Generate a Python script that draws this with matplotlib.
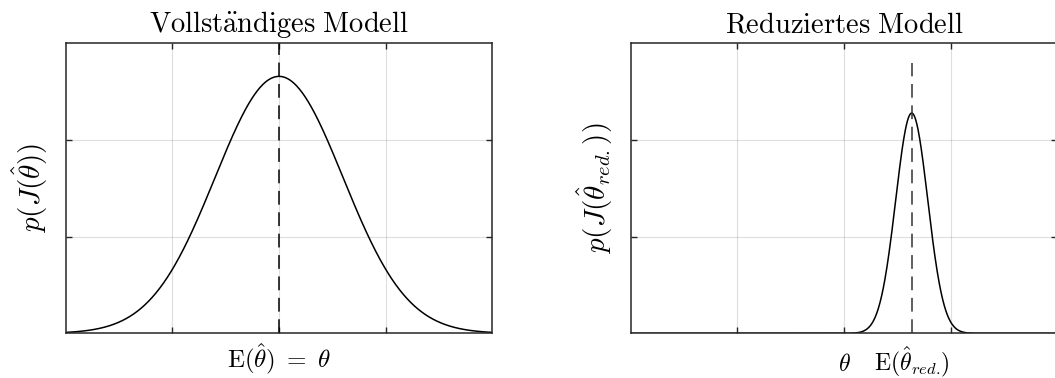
import numpy as np
import matplotlib
matplotlib.use('Agg')
import matplotlib.pyplot as plt
import matplotlib.transforms as mtransforms

plt.rcParams['mathtext.fontset'] = 'cm'
plt.rcParams['font.family'] = ['DejaVu Serif']

# Verteilungsparameter der Schätzer (theta = 0)
x_range = [-4, 4]
x_grid = [-2, 0, 2]
theta = 0.0
mu_full, sigma_full = 0.0, 1.2
mu_red, sigma_red = 1.27, 0.30
ylim_full = [0, 0.375]
ylim_red = [0, 1.75]
dash_top_red = 1.63

titles = [r'$\mathrm{Vollst\ddot{a}ndiges\ Modell}$', r'$\mathrm{Reduziertes\ Modell}$']
ylabels = [r'$p(J(\hat{\theta}))$', r'$p(J(\hat{\theta}_{red.}))$']
xlabel_full = r'$\mathrm{E}(\hat{\theta})\ =\ \theta$'
xticks_red = [theta, mu_red]
xticklabels_red = [r'$\theta$', r'$\mathrm{E}(\hat{\theta}_{red.}\!)$']

dash = (0, (9, 5))


def normpdf(x, mu, sigma):
    return np.exp(-0.5 * ((x - mu) / sigma) ** 2) / (sigma * np.sqrt(2 * np.pi))


def style_axes(ax, ylim):
    ax.set_xlim(x_range)
    ax.set_ylim(ylim)
    ax.set_xticks(x_grid)
    ax.set_yticks([ylim[1] / 3, 2 * ylim[1] / 3])
    ax.set_xticklabels([])
    ax.set_yticklabels([])
    ax.grid(True, color='k', alpha=0.13, linewidth=0.8)
    ax.tick_params(which='major', direction='in', length=4, width=1,
                   top=True, right=True, color='#262626')
    for s in ax.spines.values():
        s.set_color('#262626')
        s.set_linewidth(1.1)


fig = plt.figure(figsize=(10.55, 3.78), dpi=100)
ax1 = fig.add_axes([0.0623, 0.118, 0.4044, 0.767])
ax2 = fig.add_axes([0.5978, 0.118, 0.4044, 0.767])

x = np.linspace(x_range[0], x_range[1], 800)

# vollständiges Modell
style_axes(ax1, ylim_full)
ax1.plot(x, normpdf(x, mu_full, sigma_full), color='k', linewidth=1.1)
ax1.plot([mu_full, mu_full], ylim_full, color='k', linewidth=1.1, linestyle=dash)
ax1.set_title(titles[0], fontsize=20.5, pad=8)
ax1.set_ylabel(ylabels[0], fontsize=21, labelpad=8)
xl = ax1.set_xlabel(xlabel_full, fontsize=18, labelpad=3)

# reduziertes Modell
style_axes(ax2, ylim_red)
ax2.plot(x, normpdf(x, mu_red, sigma_red), color='k', linewidth=1.1)
ax2.plot([mu_red, mu_red], [0, dash_top_red], color='#333333', linewidth=1.1,
         linestyle=dash)
# Beschriftung unter der x-Achse auf gemeinsamer Grundlinie
trans = mtransforms.blended_transform_factory(ax2.transData, ax2.transAxes)
for xv, lab in zip(xticks_red, xticklabels_red):
    ax2.text(xv, -0.128, lab, transform=trans, ha='center', va='baseline', fontsize=17)
ax2.set_title(titles[1], fontsize=20.5, pad=8)
ax2.set_ylabel(ylabels[1], fontsize=21, labelpad=8)

fig.savefig('out.png', dpi=100)
